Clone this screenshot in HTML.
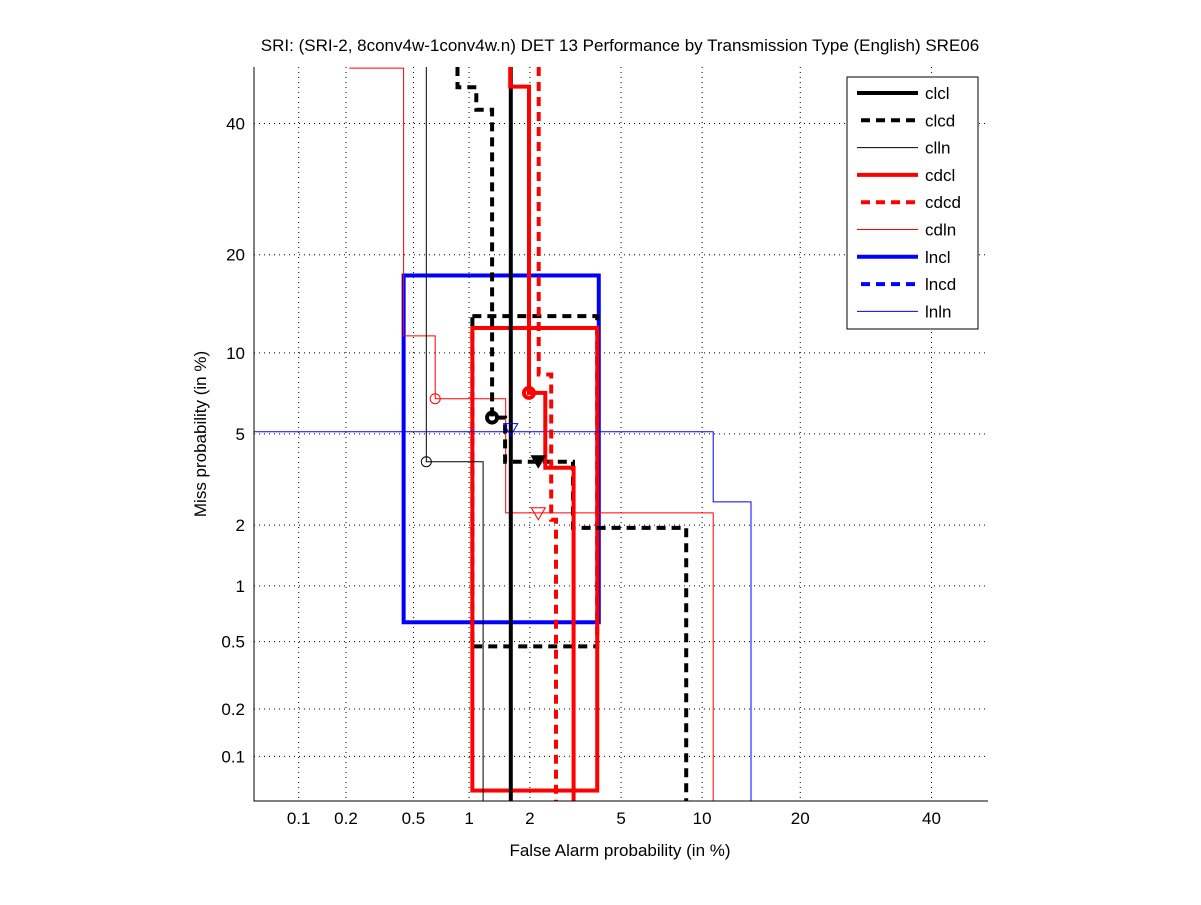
<!DOCTYPE html>
<html><head><meta charset="utf-8"><style>
body{margin:0;background:#fff;}
svg text{font-family:"Liberation Sans",sans-serif;}
</style></head><body>
<svg id="c" width="1201" height="900" xmlns="http://www.w3.org/2000/svg">
<rect width="1201" height="900" fill="#fff"/>
<g id="grid"></g>
<g id="series"></g>
<g id="axes"></g>
<g id="legend"></g>
</svg>
<script>
// DET curves: [false alarm %, miss %]
const xTicks=[0.1,0.2,0.5,1,2,5,10,20,40];
const yTicks=[0.1,0.2,0.5,1,2,5,10,20,40];
const clcl=[[1.62,50],[1.62,0.05]];
const clcd=[[0.87,50],[0.87,46.4],[1.09,46.4],[1.09,42.4],[1.31,42.4],[1.31,5.8],[1.52,5.8],[1.52,3.84],[3.14,3.84],[3.14,1.94],[8.8,1.94],[8.8,0.05]];
const clln=[[0.59,50],[0.59,3.84],[1.18,3.84],[1.18,0.05]];
const cdcl=[[1.61,50],[1.61,46.5],[1.98,46.5],[1.98,7.2],[2.36,7.2],[2.36,3.62],[3.16,3.62],[3.16,0.05]];
const cdcd=[[2.2,50],[2.2,8.4],[2.51,8.4],[2.51,2.12],[2.64,2.12],[2.64,0.05]];
const cdln=[[0.21,49.8],[0.44,49.8],[0.44,11.4],[0.66,11.4],[0.66,6.85],[1.53,6.85],[1.53,2.28],[10.9,2.28],[10.9,0.05]];
const lnln=[[0.05,5.1],[10.9,5.1],[10.9,2.56],[14.4,2.56],[14.4,0.05]];
// confidence boxes [faLo, faHi, missLo, missHi]
const clcdBox=[1.04,3.99,0.47,13.2];
const cdclBox=[1.04,3.99,0.059,12.1];
const lnclBox=[0.44,4.05,0.64,17.5];
// markers [fa, miss]
const clcdCircle=[1.31,5.8], clcdTri=[2.19,3.84];
const cdclCircle=[1.98,7.2];
const cllnCircle=[0.59,3.84];
const cdlnCircle=[0.66,6.85], cdlnTri=[2.19,2.26];
const lnlnTri=[1.62,5.2];
const legendNames=["clcl","clcd","clln","cdcl","cdcd","cdln","lncl","lncd","lnln"];

function ninv(p){const a=[-39.69683028665376,220.9460984245205,-275.9285104469687,138.3577518672690,-30.66479806614716,2.506628277459239],b=[-54.47609879822406,161.5858368580409,-155.6989798598866,66.80131188771972,-13.28068155288572],c=[-0.007784894002430293,-0.3223964580411365,-2.400758277161838,-2.549732539343734,4.374664141464968,2.938163982698783],d=[0.007784695709041462,0.3224671290700398,2.445134137142996,3.754408661907416];let q,r;if(p<0.02425){q=Math.sqrt(-2*Math.log(p));return(((((c[0]*q+c[1])*q+c[2])*q+c[3])*q+c[4])*q+c[5])/((((d[0]*q+d[1])*q+d[2])*q+d[3])*q+1);}if(p>1-0.02425){q=Math.sqrt(-2*Math.log(1-p));return-(((((c[0]*q+c[1])*q+c[2])*q+c[3])*q+c[4])*q+c[5])/((((d[0]*q+d[1])*q+d[2])*q+d[3])*q+1);}q=p-0.5;r=q*q;return(((((a[0]*r+a[1])*r+a[2])*r+a[3])*r+a[4])*r+a[5])*q/(((((b[0]*r+b[1])*r+b[2])*r+b[3])*r+b[4])*r+1);}
const L=254,R=988,T=67,B=801,P0=ninv(0.0005),P1=ninv(0.5);
const X=v=>L+(ninv(v/100)-P0)/(P1-P0)*(R-L);
const Y=v=>B-(ninv(v/100)-P0)/(P1-P0)*(B-T);
const NS="http://www.w3.org/2000/svg";
function mk(tag,at,parent){const e=document.createElementNS(NS,tag);for(const k in at)e.setAttribute(k,at[k]);document.getElementById(parent).appendChild(e);return e;}

// grid
xTicks.forEach(t=>{const e=mk('line',{x1:X(t),x2:X(t),y1:T,y2:B,stroke:'#000','stroke-width':1,'stroke-dasharray':'1,4'},'grid');

});
yTicks.forEach(t=>{const e=mk('line',{x1:L,x2:R,y1:Y(t),y2:Y(t),stroke:'#000','stroke-width':1,'stroke-dasharray':'1,4'},'grid');

});

function path(pts,color,w,dash,name){const d=pts.map((p,i)=>(i?'L':'M')+X(p[0]).toFixed(1)+' '+Y(p[1]).toFixed(1)).join(' ');const e=mk('path',{d:d,fill:'none',stroke:color,'stroke-width':w},'series');if(dash)e.setAttribute('stroke-dasharray',dash);

return e;}
function box(b,color,w,dash,name){const e=mk('rect',{x:X(b[0]),y:Y(b[3]),width:X(b[1])-X(b[0]),height:Y(b[2])-Y(b[3]),fill:'none',stroke:color,'stroke-width':w},'series');if(dash)e.setAttribute('stroke-dasharray',dash);

}
box(lnclBox,'#00f',4,null,'lncl-box');
box(clcdBox,'#000',4,'9,6','clcd-box');
box(cdclBox,'#f00',4,null,'cdcl-box');
path(cdln,'#f00',1,null,'cdln-curve');
path(clln,'#000',1,null,'clln-curve');
path(lnln,'#00f',1,null,'lnln-curve');
path(clcd,'#000',4,'9,6','clcd-curve');
path(clcl,'#000',4,null,'clcl-curve');
path(cdcd,'#f00',4,'9,6','cdcd-curve');
path(cdcl,'#f00',4,null,'cdcl-curve');
function circ(p,color,w,r,name){const e=mk('circle',{cx:X(p[0]),cy:Y(p[1]),r:r,fill:'none',stroke:color,'stroke-width':w},'series');

}
function tri(p,color,fill,name){const x=X(p[0]),y=Y(p[1]);const e=mk('polygon',{points:`${x-7},${y-6} ${x+7},${y-6} ${x},${y+6}`,fill:fill,stroke:color,'stroke-width':1},'series');

}
circ(cdlnCircle,'#f00',1,5,'cdln-marker');
circ(cllnCircle,'#000',1,5,'clln-marker');
tri(cdlnTri,'#f00','none','cdln-min-marker');
tri(lnlnTri,'#00f','none','lnln-min-marker');
circ(clcdCircle,'#000',4,5,'clcd-marker');
tri(clcdTri,'#000','#000','clcd-min-marker');
circ(cdclCircle,'#f00',4,5,'cdcl-marker');

// axes
const ax=mk('path',{d:`M${L} ${T} L${L} ${B} L${R} ${B}`,fill:'none',stroke:'#000','stroke-width':1},'axes');


xTicks.forEach(t=>{const e=mk('text',{x:X(t),y:824,'text-anchor':'middle','font-size':17},'axes');e.textContent=String(t);

});
yTicks.forEach(t=>{const e=mk('text',{x:245,y:Y(t)+6,'text-anchor':'end','font-size':17},'axes');e.textContent=String(t);

});
let e=mk('text',{x:620,y:51,'text-anchor':'middle','font-size':17},'axes');e.textContent='SRI: (SRI-2, 8conv4w-1conv4w.n) DET 13 Performance by Transmission Type (English) SRE06';


e=mk('text',{x:620,y:856,'text-anchor':'middle','font-size':17},'axes');e.textContent='False Alarm probability (in %)';


e=mk('text',{x:0,y:0,'text-anchor':'middle','font-size':17,transform:'translate(206,434) rotate(-90)'},'axes');e.textContent='Miss probability (in %)';



// legend
const lb=mk('rect',{x:847,y:77,width:131,height:252,fill:'#fff',stroke:'#000','stroke-width':1},'legend');


const lc=['#000','#000','#000','#f00','#f00','#f00','#00f','#00f','#00f'];
legendNames.forEach((n,i)=>{const y=93+i*27.3;const k=i%3;
const l=mk('line',{x1:k==1?861:857,x2:918,y1:y,y2:y,stroke:lc[i],'stroke-width':k==2?1:4},'legend');if(k==1)l.setAttribute('stroke-dasharray','9,6');


const t=mk('text',{x:925,y:y+6,'font-size':17},'legend');t.textContent=n;

});
</script>
</body></html>
